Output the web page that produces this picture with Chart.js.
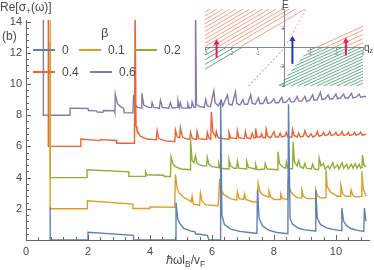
<!DOCTYPE html>
<html>
<head>
<meta charset="utf-8">
<script src="https://cdn.jsdelivr.net/npm/chart.js@4.4.1/dist/chart.umd.min.js"></script>
<style>
  body { margin: 0; background: #fff; overflow: hidden; }
  #box { position: relative; width: 374px; height: 270px; font-family: 'Liberation Sans', Arial, sans-serif; color: #4a4a4a; }
  #box canvas { position: absolute; }
  .t { position: absolute; white-space: nowrap; line-height: 1; }
  .t sub { font-size: 70%; vertical-align: -0.3em; line-height: 0; }
  .key { position: absolute; height: 2px; width: 22px; }
</style>
</head>
<body>
<div id="box">
  <canvas id="main" width="374" height="270" style="left:0;top:0"></canvas>
  <canvas id="inset" width="184" height="95" style="left:190px;top:0"></canvas>
  <div class="t" style="left:0;top:1px;font-size:12px">Re[σ<sub>+</sub>(ω)]</div>
  <div class="t" style="left:2px;top:30px;font-size:12px">(b)</div>
  <div class="t" style="left:166px;top:254px;font-size:12px">ℏωl<sub>B</sub>/v<sub>F</sub></div>
  <div class="t" style="left:282px;top:0;font-size:10px">E</div>
  <div class="t" style="left:364px;top:43px;font-size:10px">q<sub>z</sub></div>
  <div class="t" style="left:101px;top:26px;font-size:13px">β</div>
  <div id="legend"></div>
</div>
<script>
// main plot data: [ħω l_B / v_F, Re σ+] for each tilt β (curves offset by 2)
const betaLabels = ['0', '0.1', '0.2', '0.4', '0.6'];
const xTicks = [0, 2, 4, 6, 8, 10];
const yTicks = [2, 4, 6, 8, 10, 12, 14];

const beta00 = [[0.78,2.1],[0.78,0],[2.0,0],[2.0,0.5],[3.47,0.3],[3.47,0],[4.83,0],[4.84,2.4],[4.9,1.3],[4.97,1.05],
  [5.09,0.75],[5.3,0.58],[5.45,0.52],[5.47,0.4],[5.85,0.3],[5.9,0],[6.27,0],[6.28,9.0],[6.32,1.6],[6.4,1.0],
  [6.6,0.7],[6.9,0.55],[7.2,0.48],[7.45,0.42],[7.47,3.2],[7.52,1.4],[7.63,0.9],[7.84,0.62],[8.1,0.48],[8.45,0.4],
  [8.47,8.7],[8.52,1.4],[8.6,1.0],[8.8,0.75],[9.0,0.65],[9.33,0.58],[9.35,3.2],[9.4,1.4],[9.5,1.0],[9.7,0.78],
  [9.9,0.68],[10.17,0.6],[10.19,2.05],[10.25,1.2],[10.35,0.9],[10.5,0.72],[10.7,0.62],[10.9,0.55],[10.92,2.05],[10.97,1.2]];

const beta01 = [[0.78,15],[0.78,2.0],[1.98,2.0],[1.98,2.52],[3.45,2.3],[3.45,2.02],[3.98,2.02],[4.0,2.12],[4.8,2.1],
  [4.82,4.2],[4.88,3.3],[4.95,3.0],[5.09,2.74],[5.25,2.55],[5.33,2.45],[5.36,2.8],[5.4,2.3],[5.6,2.22],[5.63,3.0],
  [5.68,2.5],[5.8,2.25],[6.2,2.2],[6.25,3.9],[6.3,3.2],[6.39,2.9],[6.6,2.65],[6.8,2.55],[6.82,3.1],[6.88,2.65],
  [7.03,2.6],[7.05,2.95],[7.1,2.6],[7.3,2.45],[7.47,2.45],[7.49,3.65],[7.55,3.1],[7.63,2.9],[7.82,2.75],[7.84,3.15],
  [7.9,2.75],[8.0,2.6],[8.2,2.6],[8.22,2.95],[8.28,2.65],[8.44,2.6],[8.46,3.9],[8.52,3.2],[8.6,2.95],[8.76,2.7],
  [8.88,2.7],[8.9,3.2],[8.95,2.8],[9.08,2.65],[9.33,2.65],[9.35,3.2],[9.4,2.85],[9.5,2.7],[9.66,2.7],[9.68,4.5],
  [9.72,3.4],[9.84,3.05],[10.05,2.8],[10.14,2.8],[10.16,3.5],[10.22,2.95],[10.32,2.8],[10.47,2.8],[10.49,3.2],
  [10.55,2.85],[10.65,2.75],[10.82,2.8],[10.84,4.4],[10.88,3.3],[10.97,2.8]];

const beta02 = [[0.78,12.7],[0.78,4.0],[1.97,4.0],[1.97,4.5],[3.32,4.37],[3.32,4.08],[3.84,4.08],[3.86,4.38],[3.9,4.18],
  [4.44,4.15],[4.46,4.07],[4.66,4.07],[4.68,5.35],[4.75,4.85],[4.82,4.7],[5.0,4.55],[5.3,4.5],[5.31,6.4],[5.36,5.1],
  [5.42,4.95],[5.47,5.4],[5.52,4.9],[5.69,4.75],[5.83,4.75],[5.85,5.3],[5.9,4.85],[6.01,4.7],[6.2,4.65],[6.22,4.9],
  [6.26,4.6],[6.53,4.55],[6.55,5.15],[6.6,4.75],[6.71,4.6],[6.8,4.6],[6.82,5.05],[6.87,4.6],[7.1,4.55],[7.12,5.05],
  [7.18,4.65],[7.39,4.55],[7.41,4.85],[7.46,4.5],[7.7,4.55],[7.72,4.9],[7.78,4.55],[8.11,4.5],[8.13,5.65],[8.18,4.9],
  [8.3,4.65],[8.38,4.6],[8.4,5.0],[8.45,4.6],[8.6,4.55],[8.62,6.3],[8.66,5.0],[8.75,4.75],[8.8,5.1],[8.85,4.7],
  [8.95,4.6],[9.0,4.9],[9.05,4.6],[9.2,4.55],[9.25,4.85],[9.3,4.55],[9.44,4.5],[9.46,5.25],[9.52,4.75],[9.6,4.9],
  [9.65,4.55],[9.75,4.75],[9.8,4.55],[9.9,4.95],[9.95,4.6],[10.05,4.8],[10.1,4.55],[10.2,4.95],[10.25,4.6],
  [10.35,4.85],[10.4,4.55],[10.5,4.85],[10.55,4.6],[10.62,4.9],[10.68,4.6],[10.75,4.85],[10.8,4.6],[10.84,4.65],
  [10.86,5.45],[10.9,4.8],[10.97,4.7]];

const beta04 = [[0.72,15],[0.72,6.0],[1.77,6.0],[1.77,6.47],[2.38,6.37],[2.4,6.43],[2.92,6.38],[2.93,6.2],[3.5,6.2],
  [3.52,15],[3.55,7.3],[3.58,7.05],[3.69,6.65],[3.9,6.47],[4.2,6.42],[4.23,7.0],[4.28,6.5],[4.5,6.35],[4.8,6.3],
  [4.82,7.05],[4.88,6.6],[4.96,6.55],[4.98,7.2],[5.05,6.6],[5.15,6.5],[5.29,6.45],[5.31,6.9],[5.37,6.5],[5.5,6.45],
  [5.52,6.95],[5.57,6.5],[5.83,6.45],[5.85,6.9],[5.9,6.55],[5.96,6.45],[5.98,8.2],[6.03,6.9],[6.12,6.6],[6.14,6.95],
  [6.2,6.55],[6.53,6.45],[6.55,6.9],[6.6,6.55],[6.8,6.5],[6.82,7.0],[6.87,6.55],[7.05,6.5],[7.08,6.95],[7.13,6.55],
  [7.25,6.5],[7.3,6.85],[7.35,6.55],[7.39,6.55],[7.41,7.15],[7.46,6.6],[7.57,6.6],[7.6,6.8],[7.65,6.55],[7.73,6.55],
  [7.75,7.1],[7.8,6.65],[7.9,6.55],[8.0,6.95],[8.05,6.6],[8.15,6.6],[8.2,6.85],[8.25,6.6],[8.35,6.65],[8.4,6.9],
  [8.45,6.6],[8.58,6.6],[8.6,7.1],[8.65,6.7],[8.75,6.6],[8.8,6.85],[8.85,6.6],[8.95,6.65],[9.0,7.0],[9.05,6.7],
  [9.12,6.6],[9.2,6.8],[9.25,6.6],[9.35,6.7],[9.4,6.95],[9.45,6.65],[9.55,6.7],[9.6,6.9],[9.65,6.7],[9.75,6.75],
  [9.8,6.95],[9.85,6.7],[9.95,6.75],[10.0,6.9],[10.05,6.7],[10.15,6.75],[10.2,6.95],[10.25,6.7],[10.35,6.75],
  [10.4,6.9],[10.45,6.7],[10.55,6.75],[10.6,6.9],[10.65,6.72],[10.75,6.78],[10.8,6.92],[10.85,6.72],[10.97,6.78]];

const beta06 = [[0.56,15],[0.56,8.0],[1.42,8.0],[1.42,8.45],[2.0,8.43],[2.02,8.3],[2.28,8.28],[2.3,8.2],[2.48,8.18],
  [2.5,8.3],[2.85,8.28],[2.87,8.15],[2.88,9.35],[2.95,8.75],[3.05,8.55],[3.15,8.45],[3.17,8.15],[3.45,8.15],[3.47,9.3],
  [3.52,8.65],[3.6,8.5],[3.72,8.45],[3.74,9.4],[3.8,8.65],[3.95,8.5],[4.05,8.5],[4.07,8.8],[4.12,8.5],[4.3,8.45],
  [4.34,8.95],[4.4,8.5],[4.6,8.45],[4.66,8.8],[4.72,8.45],[4.88,8.5],[4.9,8.95],[4.95,8.5],[4.98,8.8],[5.03,8.45],
  [5.2,8.45],[5.22,8.75],[5.27,8.45],[5.34,8.5],[5.36,8.85],[5.42,8.5],[5.47,8.5],[5.47,15],[5.5,8.7],[5.6,8.55],
  [5.75,8.5],[5.8,9.0],[5.85,8.6],[5.95,8.55],[6.06,9.55],[6.1,8.8],[6.2,8.6],[6.3,8.95],[6.35,8.6],[6.5,9.3],
  [6.55,8.7],[6.65,8.65],[6.76,9.5],[6.8,8.75],[6.9,8.65],[7.0,9.0],[7.05,8.7],[7.15,8.7],[7.25,9.3],[7.3,8.75],
  [7.4,8.7],[7.5,9.1],[7.55,8.75],[7.65,8.75],[7.75,9.15],[7.8,8.75],[7.9,8.8],[8.0,9.05],[8.05,8.8],[8.15,8.8],
  [8.25,9.15],[8.3,8.8],[8.4,8.85],[8.5,9.1],[8.55,8.85],[8.65,8.85],[8.75,9.2],[8.8,8.9],[8.9,8.9],[9.0,9.2],
  [9.05,8.9],[9.15,8.95],[9.25,9.3],[9.3,8.95],[9.4,9.0],[9.5,9.45],[9.55,9.0],[9.65,9.05],[9.75,9.3],[9.8,9.05],
  [9.9,9.05],[10.0,9.35],[10.05,9.05],[10.15,9.1],[10.25,9.35],[10.3,9.1],[10.4,9.1],[10.5,9.4],[10.55,9.1],
  [10.65,9.15],[10.75,9.35],[10.8,9.15],[10.9,9.2],[10.97,9.2]];

// inset: Landau-level sketch, segments [q1, E1, q2, E2]
const qTicks = [-3, -2, -1, 1, 2, 3];
const eTicks = [-4, -2, 2, 4];
const insetRedUpper = [[-3,3.68,-2.8,4],[-3,3.28,-2.55,4],[-3,2.88,-2.3,4],[-3,2.48,-2.05,4],[-3,2.08,-1.8,4],
  [-3,1.68,-1.55,4],[-3,1.28,-1.3,4],[-3,0.88,-1.05,4],[-3,0.48,-0.8,4],[-3,0.1,-0.56,4],[-2.74,0.1,-0.3,4],
  [-2.49,0.1,-0.05,4],[-2.24,0.1,0.2,4],[-1.99,0.1,0.45,4],[-1.64,0.1,0.8,4]];
const insetRedRight = [[1.22,0,3,2.2],[1.55,0,3,1.8],[1.9,0,3,1.36],[2.25,0,3,0.93],[2.6,0,3,0.5]];
const insetGreenLeft = [[-3,-0.32,-2.8,0],[-3,-0.8,-2.5,0],[-3,-1.28,-2.2,0],[-3,-1.76,-1.9,0],[-3,-2.24,-1.6,0]];
const insetGreenRight = [[0.88,-0.4,1.2,0],[0.73,-0.9,1.45,0],[0.58,-1.4,1.7,0],[0.43,-1.9,1.95,0],[0.28,-2.4,2.2,0],
  [0.13,-2.9,2.45,0],[-0.02,-3.4,2.7,0],[-0.2,-3.94,2.95,0],[0,-4,3,-0.25],[0.25,-4,3,-0.56],[0.5,-4,3,-0.88],
  [0.75,-4,3,-1.19],[1.0,-4,3,-1.5],[1.25,-4,3,-1.81],[1.5,-4,3,-2.13],[1.75,-4,3,-2.44],[2.0,-4,3,-2.75],
  [2.25,-4,3,-3.06],[2.5,-4,3,-3.38],[2.75,-4,3,-3.69]];
const chiralRed = [[0.12,0.5,0.85,4]];
const chiralGreen = [[-1.35,-4,0,-0.1]];
// arrows: [q, E from, E to]
const arrowsPink = [[-2.56,-1.07,0.5],[2.35,-0.83,0.68]];
const arrowBlue = [[0.32,-1.7,0.85]];

const colors = ['#5E81B5', '#E19C24', '#8FB032', '#EB6235', '#8778B3'];
const series = [beta00, beta01, beta02, beta04, beta06];

// legend (html)
const keyPos = [[33, 50], [79, 50], [135, 50], [33, 72], [90, 72]];
const leg = document.getElementById('legend');
betaLabels.forEach((lab, i) => {
  const [lx, ly] = keyPos[i];
  const k = document.createElement('div');
  k.className = 'key';
  k.style.left = lx + 'px'; k.style.top = (ly - 1) + 'px'; k.style.background = colors[i];
  leg.appendChild(k);
  const t = document.createElement('div');
  t.className = 't';
  t.style.left = (lx + 29) + 'px'; t.style.top = (ly - 6) + 'px'; t.style.fontSize = '12px';
  t.textContent = lab;
  leg.appendChild(t);
});

const axesAndTicks = {
  id: 'axesAndTicks',
  afterDraw(chart) {
    const { ctx, scales: { x, y }, chartArea: a } = chart;
    ctx.save();
    ctx.strokeStyle = '#666';
    ctx.lineWidth = 1;
    ctx.beginPath();
    ctx.moveTo(a.left + 0.5, a.top); ctx.lineTo(a.left + 0.5, a.bottom + 0.5);
    ctx.lineTo(a.right, a.bottom + 0.5);
    for (let i = 0; i * 0.4 <= x.max; i++) {
      const px = Math.round(x.getPixelForValue(i * 0.4)) + 0.5;
      const len = i % 5 === 0 ? 5 : 3;
      ctx.moveTo(px, a.bottom); ctx.lineTo(px, a.bottom - len);
    }
    for (let i = 0; i * 0.4 <= y.max; i++) {
      const py = Math.round(y.getPixelForValue(i * 0.4)) + 0.5;
      const len = i % 5 === 0 ? 5 : 3;
      ctx.moveTo(a.left, py); ctx.lineTo(a.left + len, py);
    }
    ctx.stroke();
    ctx.restore();
  }
};

const tickFont = { family: 'Liberation Sans', size: 11 };
new Chart(document.getElementById('main'), {
  type: 'line',
  data: {
    datasets: series.map((s, i) => ({
      label: betaLabels[i],
      data: s.map(([x, y]) => ({ x, y })),
      borderColor: colors[i],
      borderWidth: 1.4,
      pointRadius: 0,
      tension: 0,
      fill: false
    }))
  },
  options: {
    responsive: false, animation: false, events: [],
    layout: { padding: { left: 0, right: 4, top: 20, bottom: 0 } },
    plugins: { legend: { display: false }, tooltip: { enabled: false } },
    scales: {
      x: {
        type: 'linear', min: 0, max: 11.1,
        afterBuildTicks: s => { s.ticks = xTicks.map(v => ({ value: v })); },
        afterFit: s => { s.height = 30; },
        grid: { display: false, drawTicks: false }, border: { display: false },
        ticks: { color: '#4a4a4a', font: tickFont, padding: 5, maxRotation: 0 }
      },
      y: {
        type: 'linear', min: 0, max: 14.1,
        afterBuildTicks: s => { s.ticks = yTicks.map(v => ({ value: v })); },
        afterFit: s => { s.width = 26; },
        grid: { display: false, drawTicks: false }, border: { display: false },
        ticks: { color: '#4a4a4a', font: tickFont, padding: 4 }
      }
    }
  },
  plugins: [axesAndTicks]
});

// inset
function segPoints(segs) {
  const pts = [];
  segs.forEach(([q1, e1, q2, e2]) => { pts.push({ x: q1, y: e1 }, { x: q2, y: e2 }, { x: q2, y: null }); });
  return pts;
}
function arrowSets(list, color) {
  return list.map(([q, e1, e2]) => ({
    data: [{ x: q, y: e1 }, { x: q, y: e2 }],
    borderColor: color, backgroundColor: color, borderWidth: 2,
    pointRadius: [0, 3.5], pointStyle: 'triangle', pointBorderWidth: 0, pointBackgroundColor: color
  }));
}
const famRed = '#F2866A', famGreen = '#3E9468';
const lineSet = (segs, color, dash) => ({
  data: segPoints(segs), borderColor: color, borderWidth: 0.8, pointRadius: 0, spanGaps: false, borderDash: dash || []
});
new Chart(document.getElementById('inset'), {
  type: 'line',
  data: {
    datasets: [
      ...arrowSets(arrowBlue, '#2233CC'),
      ...arrowSets(arrowsPink, '#E0245E'),
      lineSet(chiralRed, famRed, [2, 2]),
      lineSet(chiralGreen, famGreen, [2, 2]),
      lineSet(insetRedUpper, famRed),
      lineSet(insetRedRight, famRed),
      lineSet(insetGreenLeft, famGreen),
      lineSet(insetGreenRight, famGreen)
    ]
  },
  options: {
    responsive: false, animation: false, events: [],
    layout: { padding: { left: 15, right: 11, top: 9, bottom: 9 } },
    plugins: { legend: { display: false }, tooltip: { enabled: false } },
    scales: {
      x: {
        type: 'linear', min: -3, max: 3, position: { y: 0 },
        afterBuildTicks: s => { s.ticks = qTicks.map(v => ({ value: v })); },
        grid: { drawOnChartArea: false, tickLength: 2, color: '#888' },
        border: { color: '#888' },
        ticks: { color: '#777', font: { family: 'Liberation Sans', size: 5 }, padding: 1, maxRotation: 0 }
      },
      y: {
        type: 'linear', min: -4, max: 4, position: { x: 0 },
        afterBuildTicks: s => { s.ticks = eTicks.map(v => ({ value: v })); },
        grid: { drawOnChartArea: false, tickLength: 2, color: '#888' },
        border: { color: '#888' },
        ticks: { color: '#777', font: { family: 'Liberation Sans', size: 5 }, padding: 1 }
      }
    }
  }
});
</script>
</body>
</html>
